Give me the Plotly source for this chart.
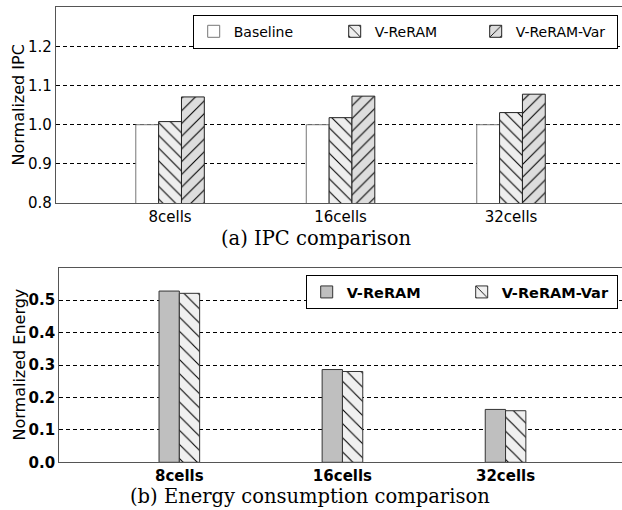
import plotly.graph_objects as go

# ---- data ----
categories = ["8cells", "16cells", "32cells"]
ipc_baseline = [1.000, 1.000, 1.000]
ipc_vreram = [1.008, 1.018, 1.031]
ipc_vreram_var = [1.071, 1.073, 1.078]

energy_vreram = [0.528, 0.286, 0.163]
energy_vreram_var = [0.521, 0.280, 0.159]

ipc_ticks = [0.8, 0.9, 1.0, 1.1, 1.2]
energy_ticks = [0.0, 0.1, 0.2, 0.3, 0.4, 0.5]

W, H = 622, 510
SANS = "DejaVu Sans"
SERIF = "DejaVu Serif"

fig = go.Figure()

# ---- top panel: IPC ----
w1 = 0.134
fig.add_trace(go.Bar(
    x=categories, y=ipc_baseline, name="Baseline", width=w1, offset=-1.5 * w1,
    marker=dict(color="white", line=dict(color="#777777", width=1)),
    xaxis="x", yaxis="y", legend="legend"))
fig.add_trace(go.Bar(
    x=categories, y=ipc_vreram, name="V-ReRAM", width=w1, offset=-0.5 * w1,
    marker=dict(color="#eeeeee", line=dict(color="#222222", width=1),
                pattern=dict(shape="\\", fgcolor="black", bgcolor="#eeeeee",
                             size=9, solidity=0.12, fillmode="replace")),
    xaxis="x", yaxis="y", legend="legend"))
fig.add_trace(go.Bar(
    x=categories, y=ipc_vreram_var, name="V-ReRAM-Var", width=w1, offset=0.5 * w1,
    marker=dict(color="#dddddd", line=dict(color="#222222", width=1),
                pattern=dict(shape="/", fgcolor="black", bgcolor="#dddddd",
                             size=9, solidity=0.12, fillmode="replace")),
    xaxis="x", yaxis="y", legend="legend"))

# ---- bottom panel: Energy ----
w2 = 0.1245
fig.add_trace(go.Bar(
    x=categories, y=energy_vreram, name="V-ReRAM", width=w2, offset=-w2,
    marker=dict(color="#bfbfbf", line=dict(color="#333333", width=1)),
    xaxis="x2", yaxis="y2", legend="legend2"))
fig.add_trace(go.Bar(
    x=categories, y=energy_vreram_var, name="V-ReRAM-Var", width=w2, offset=0,
    marker=dict(color="#f0f0f0", line=dict(color="#333333", width=1),
                pattern=dict(shape="\\", fgcolor="black", bgcolor="#f0f0f0",
                             size=10, solidity=0.11, fillmode="replace")),
    xaxis="x2", yaxis="y2", legend="legend2"))

axis_common = dict(showline=True, linecolor="#555555", linewidth=1.2, ticks="",
                   ticklen=0, zeroline=False, automargin=False)
grid = dict(showgrid=True, gridcolor="black", gridwidth=1, griddash="4px,3px")

fig.update_layout(
    width=W, height=H,
    margin=dict(l=0, r=0, t=0, b=0, autoexpand=False),
    paper_bgcolor="white", plot_bgcolor="white",
    barmode="overlay",
    font=dict(family=SANS, size=15, color="black"),
    xaxis=dict(domain=[56 / W, 1.0], range=[-0.669, 2.651], mirror=True,
               showgrid=False, tickfont=dict(size=15), anchor="y",
               **axis_common),
    yaxis=dict(domain=[1 - 203 / H, 1 - 7.3 / H], range=[0.8, 1.3],
               tickvals=ipc_ticks, tickformat=".1f", tickfont=dict(size=15),
               anchor="x", **grid, **axis_common),
    xaxis2=dict(domain=[59.3 / W, 1.0], range=[-0.736, 2.714], mirror=True,
                showgrid=False, tickfont=dict(size=15, weight="bold"),
                anchor="y2", **axis_common),
    yaxis2=dict(domain=[1 - 462.3 / H, 1 - 267.7 / H], range=[0, 0.6],
                tickvals=energy_ticks, tickformat=".1f",
                tickfont=dict(size=15, weight="bold"), anchor="x2",
                **grid, **axis_common),
    legend=dict(orientation="h", xanchor="right", x=617.7 / W,
                yanchor="top", y=1 - 14.7 / H,
                bordercolor="black", borderwidth=1, bgcolor="white",
                font=dict(family=SANS, size=14),
                entrywidth=96, entrywidthmode="pixels", traceorder="normal"),
    legend2=dict(orientation="h", xanchor="right", x=617.7 / W,
                 yanchor="top", y=1 - 275 / H,
                 bordercolor="black", borderwidth=1, bgcolor="white",
                 font=dict(family=SANS, size=14.5, weight="bold"),
                 entrywidth=110, entrywidthmode="pixels", traceorder="normal"),
    showlegend=True,
)

# y-axis titles and captions
fig.add_annotation(text="Normalized IPC", xref="paper", yref="paper",
                   x=18.5 / W, y=1 - 105 / H, textangle=-90, showarrow=False,
                   xanchor="center", yanchor="middle",
                   font=dict(family=SANS, size=16))
fig.add_annotation(text="Normalized Energy", xref="paper", yref="paper",
                   x=18.5 / W, y=1 - 365 / H, textangle=-90, showarrow=False,
                   xanchor="center", yanchor="middle",
                   font=dict(family=SANS, size=16))
fig.add_annotation(text="(a) IPC comparison", xref="paper", yref="paper",
                   x=316 / W, y=1 - 238 / H, showarrow=False,
                   xanchor="center", yanchor="middle",
                   font=dict(family=SERIF, size=19.5))
fig.add_annotation(text="(b) Energy consumption comparison", xref="paper",
                   yref="paper", x=310 / W, y=1 - 496 / H, showarrow=False,
                   xanchor="center", yanchor="middle",
                   font=dict(family=SERIF, size=19.5))

fig.write_html("out.html",
               config={"displayModeBar": False},
               post_script="document.body.style.margin='0';"
                           "document.body.style.overflow='hidden';")
